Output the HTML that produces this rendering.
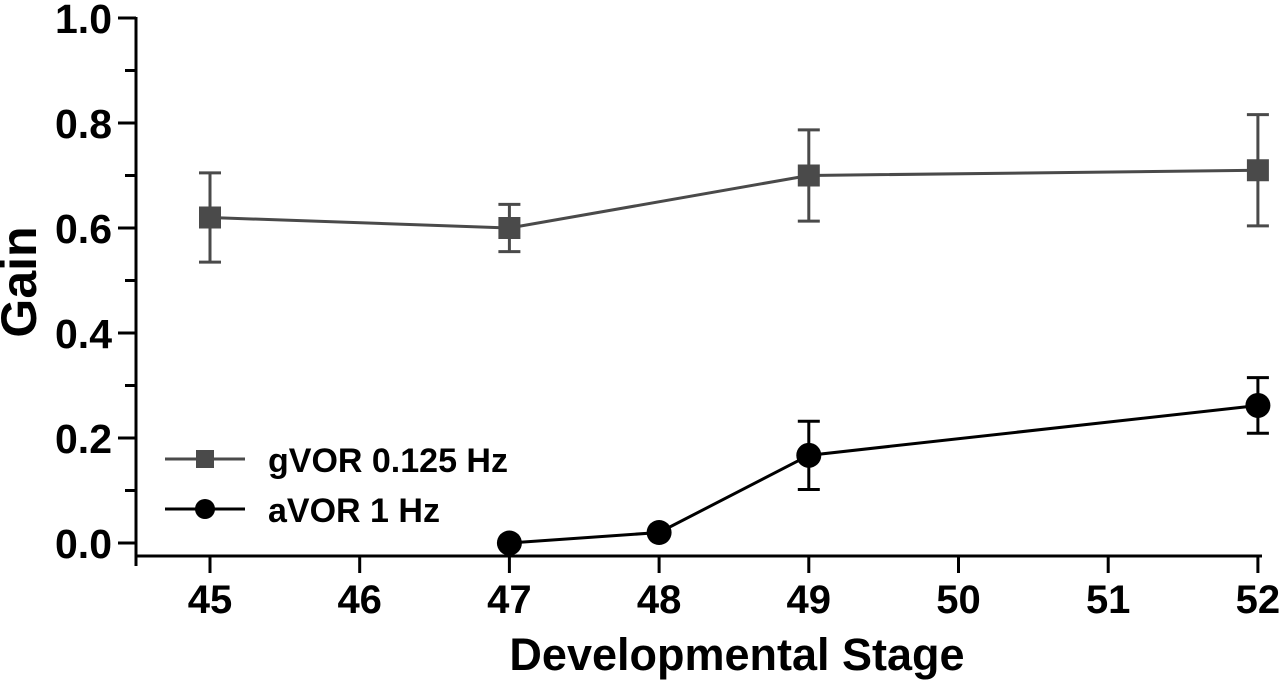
<!DOCTYPE html>
<html><head><meta charset="utf-8"><style>
html,body{margin:0;padding:0;background:#fff;}
svg{display:block;font-family:"Liberation Sans",Arial,sans-serif;}
text{font-weight:bold;}
</style></head><body>
<svg id="chart" width="1280" height="680" viewBox="0 0 1280 680">
<g id="axes"></g>
<g id="marks"></g>
<text x="36" y="282" font-size="50" text-anchor="middle" transform="rotate(-90 36 282)">Gain</text>
<text x="737" y="670" font-size="45" text-anchor="middle">Developmental Stage</text>
<g>
<g>
<line x1="165" y1="459" x2="245" y2="459" stroke="#4a4a4a" stroke-width="3"/>
<rect x="196" y="450" width="18" height="18" fill="#4a4a4a"/>
<text x="268" y="472" font-size="34">gVOR 0.125 Hz</text></g>
<g>
<line x1="165" y1="509" x2="245" y2="509" stroke="#000" stroke-width="3"/>
<circle cx="205" cy="509" r="10" fill="#000"/>
<text x="268" y="522" font-size="34">aVOR 1 Hz</text></g>
</g>
</svg>
<script>
const xTicks=[45,46,47,48,49,50,51,52];
const yTicks=[0.0,0.2,0.4,0.6,0.8,1.0];
const yTickLabels=["0.0","0.2","0.4","0.6","0.8","1.0"];
const gvorStages=[45,47,49,52];
const gvorMean=[0.62,0.60,0.70,0.71];
const gvorErr=[0.085,0.045,0.087,0.106];
const avorStages=[47,48,49,52];
const avorMean=[0.0,0.02,0.167,0.262];
const avorErr=[0,0,0.065,0.053];

const NS="http://www.w3.org/2000/svg";
const sx=v=>210+(v-45)*149.7;
const sy=v=>543-v*525;
function mk(tag,attrs,parent){const e=document.createElementNS(NS,tag);for(const k in attrs)e.setAttribute(k,attrs[k]);parent.appendChild(e);return e;}
const ax=document.getElementById('axes'), mg=document.getElementById('marks');
let yl=mk('line',{x1:136,y1:17,x2:136,y2:566,stroke:'#000','stroke-width':3},ax);


let xl=mk('line',{x1:135,y1:556,x2:1262,y2:556,stroke:'#000','stroke-width':3},ax);


for(let i=0;i<=10;i++){const v=i/10;const major=i%2===0;
 mk('line',{x1:major?118:125,y1:sy(v),x2:136,y2:sy(v),stroke:'#000','stroke-width':3},ax);}
yTicks.forEach((v,i)=>{const t=mk('text',{x:112,y:sy(v)+15,'font-size':41,'text-anchor':'end'},ax);t.textContent=yTickLabels[i];
 
 });
xTicks.forEach(v=>{mk('line',{x1:sx(v),y1:556,x2:sx(v),y2:573,stroke:'#000','stroke-width':3},ax);
 const t=mk('text',{x:sx(v),y:613,'font-size':40,'text-anchor':'middle'},ax);t.textContent=v;
 
 });
function series(st,m,er,color,shape,name){
 const pts=st.map((s,i)=>sx(s)+','+sy(m[i])).join(' ');
 const pl=mk('polyline',{points:pts,fill:'none',stroke:color,'stroke-width':3},mg);
 
 
 st.forEach((s,i)=>{const x=sx(s),y=sy(m[i]);
  if(er[i]>0){const t=sy(m[i]+er[i]),b=sy(m[i]-er[i]);
   mk('line',{x1:x,y1:t,x2:x,y2:b,stroke:color,'stroke-width':3},mg);
   mk('line',{x1:x-11,y1:t,x2:x+11,y2:t,stroke:color,'stroke-width':3},mg);
   mk('line',{x1:x-11,y1:b,x2:x+11,y2:b,stroke:color,'stroke-width':3},mg);}
  let p;
  if(shape==='sq')p=mk('rect',{x:x-11,y:y-11,width:22,height:22,fill:color},mg);
  else p=mk('circle',{cx:x,cy:y,r:12.5,fill:color},mg);
  
  
 });
}
series(gvorStages,gvorMean,gvorErr,'#4a4a4a','sq','gvor');
series(avorStages,avorMean,avorErr,'#000','ci','avor');
</script>
</body></html>
